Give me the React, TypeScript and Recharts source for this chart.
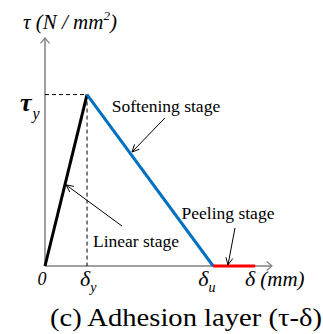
import { ComposedChart, Line, XAxis, YAxis, ReferenceLine } from "recharts"

// bond-slip law: slip δ (mm) against shear stress τ, normalised so δy = 1, τy = 1
const deltaPts = [0, 1, 4, 5]
const linearStage = [0, 1, null, null]
const softeningStage = [null, 1, 0, null]
const peelingStage = [null, null, 0, 0]

const X_MAX = 5.4
const Y_MAX = 1.33
const xTicks = [0, 1, 4, X_MAX]
const yTicks = [1, Y_MAX]

const data = deltaPts.map((d, i) => ({
  d,
  linear: linearStage[i],
  softening: softeningStage[i],
  peeling: peelingStage[i],
}))

// call-out arrows: tail -> tip in data units, text offset from the tail in px
const notes = [
  { text: "Softening stage", from: [2.854, 0.864], to: [2.07, 0.665], dx: 1, dy: -6 },
  { text: "Linear stage", from: [1.832, 0.233], to: [0.5, 0.473], dx: 14, dy: 21 },
  { text: "Peeling stage", from: [4.52, 0.222], to: [4.353, 0.006], dx: -7, dy: -9 },
]

const FONT = "Liberation Serif"
const AXIS_GREY = "#808080"

function head(x1: number, y1: number, x2: number, y2: number, len: number, spread: number) {
  const a = Math.atan2(y2 - y1, x2 - x1)
  const p1 = [x2 - len * Math.cos(a - spread), y2 - len * Math.sin(a - spread)]
  const p2 = [x2 - len * Math.cos(a + spread), y2 - len * Math.sin(a + spread)]
  return `${p1[0]},${p1[1]} ${x2},${y2} ${p2[0]},${p2[1]}`
}

const axisArrow = (p: any) => (
  <g>
    <line x1={p.x1} y1={p.y1} x2={p.x2} y2={p.y2} stroke={AXIS_GREY} strokeWidth={1.5} />
    <polyline points={head(p.x1, p.y1, p.x2, p.y2, 7, 0.7)} fill="none" stroke={AXIS_GREY} strokeWidth={1.2} />
  </g>
)

const noteArrow = (text: string, dx: number, dy: number) => (p: any) => (
  <g>
    <line x1={p.x1} y1={p.y1} x2={p.x2} y2={p.y2} stroke="#000" strokeWidth={1} />
    <polyline points={head(p.x1, p.y1, p.x2, p.y2, 8, 0.45)} fill="none" stroke="#000" strokeWidth={1} />
    <text x={p.x1 + dx} y={p.y1 + dy} textAnchor="middle" fontFamily={FONT} fontSize={17.5} fill="#000">
      {text}
    </text>
  </g>
)

function XTick({ x, y, payload }: any) {
  const v = payload.value
  const common = { fontFamily: FONT, fontStyle: "italic", fill: "#000" }
  if (v === 0)
    return (
      <text x={x - 3} y={y + 19} textAnchor="middle" fontSize={18} {...common}>
        0
      </text>
    )
  if (v === X_MAX)
    return (
      <text x={x - 27} y={y + 20} fontSize={22} {...common}>
        δ<tspan fontSize={21} dx={5}>(mm)</tspan>
      </text>
    )
  const sub = v === 1 ? "y" : "u"
  const left = v === 1 ? x - 7 : x - 15
  return (
    <text x={left} y={y + 20} fontSize={22} {...common}>
      δ<tspan fontSize={14} dy={6}>{sub}</tspan>
    </text>
  )
}

function YTick({ x, y, payload }: any) {
  const common = { fontFamily: FONT, fontStyle: "italic", fill: "#000" }
  if (payload.value === 1)
    return (
      <text x={x - 25} y={y + 16} fontSize={26} fontWeight="bold" {...common}>
        τ<tspan fontSize={16} fontWeight="normal" dx={1} dy={8}>y</tspan>
      </text>
    )
  return (
    <text x={x - 22} y={y - 9} fontSize={21} {...common}>
      τ (N / mm<tspan fontSize={13} dy={-9}>2</tspan>
      <tspan dy={9}>)</tspan>
    </text>
  )
}

export default function App() {
  return (
    <div style={{ position: "relative", width: 323, height: 334, background: "#fff" }}>
      <style>{"body{margin:0}"}</style>
      <ComposedChart width={323} height={334} data={data} margin={{ top: 38, right: 51, left: 0, bottom: 38 }}>
        <XAxis
          dataKey="d"
          type="number"
          domain={[0, X_MAX]}
          ticks={xTicks}
          interval={0}
          height={30}
          axisLine={false}
          tickLine={false}
          tickSize={0}
          tickMargin={0}
          tick={<XTick />}
        />
        <YAxis
          type="number"
          domain={[0, Y_MAX]}
          ticks={yTicks}
          interval={0}
          width={45}
          axisLine={false}
          tickLine={false}
          tickSize={0}
          tickMargin={0}
          tick={<YTick />}
        />
        <ReferenceLine segment={[{ x: 0, y: 0 }, { x: 0, y: Y_MAX }]} ifOverflow="visible" shape={axisArrow} />
        <ReferenceLine segment={[{ x: 0, y: 0 }, { x: X_MAX, y: 0 }]} ifOverflow="visible" shape={axisArrow} />
        <ReferenceLine
          segment={[{ x: 0, y: 1 }, { x: 1, y: 1 }]}
          ifOverflow="visible"
          stroke="#000"
          strokeWidth={1}
          strokeDasharray="4 3"
        />
        <ReferenceLine
          segment={[{ x: 1, y: 1 }, { x: 1, y: 0 }]}
          ifOverflow="visible"
          stroke="#000"
          strokeWidth={1}
          strokeDasharray="4 3"
        />
        <Line dataKey="linear" type="linear" stroke="#000" strokeWidth={3} dot={false} isAnimationActive={false} />
        <Line dataKey="softening" type="linear" stroke="#0070C0" strokeWidth={3} dot={false} isAnimationActive={false} />
        <Line dataKey="peeling" type="linear" stroke="#FF0000" strokeWidth={3} dot={false} isAnimationActive={false} />
        {notes.map((n) => (
          <ReferenceLine
            key={n.text}
            segment={[{ x: n.from[0], y: n.from[1] }, { x: n.to[0], y: n.to[1] }]}
            ifOverflow="visible"
            shape={noteArrow(n.text, n.dx, n.dy)}
          />
        ))}
      </ComposedChart>
      <div
        style={{
          position: "absolute",
          left: 50,
          top: 305,
          fontFamily: FONT,
          fontSize: 26,
          lineHeight: "26px",
          whiteSpace: "nowrap",
          transform: "scaleX(1.1)",
          transformOrigin: "left center",
        }}
      >
        (c) Adhesion layer (τ-δ)
      </div>
    </div>
  )
}
